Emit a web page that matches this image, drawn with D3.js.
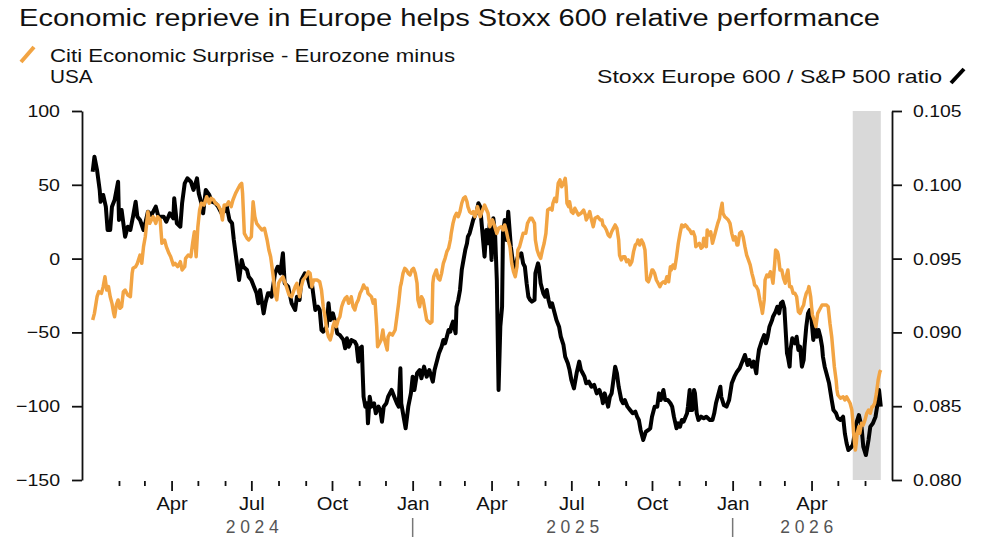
<!DOCTYPE html>
<html>
<head>
<meta charset="utf-8">
<script src="https://cdn.jsdelivr.net/npm/d3@7"></script>
<style>
  body { margin: 0; background: #fff; }
  svg { display: block; font-family: "Liberation Sans", Arial, sans-serif; }
  .axis text { font-family: "Liberation Sans", Arial, sans-serif; fill: #111; }
  .axis path, .axis line { stroke: #111; stroke-width: 1.8; }
</style>
</head>
<body>
<svg id="chart" width="1000" height="545"></svg>
<script>
// Chart text
var titleText = "Economic reprieve in Europe helps Stoxx 600 relative performance";
var surpriseLabel = ["Citi Economic Surprise - Eurozone minus", "USA"];
var ratioLabel = "Stoxx Europe 600 / S&P 500 ratio";

// Axis ticks
var leftTicks = [100, 50, 0, -50, -100, -150];
var rightTicks = [0.105, 0.100, 0.095, 0.090, 0.085, 0.080];
var yearLabels = ["2024", "2025", "2026"];
var dateStart = "2024-01-01";
var dateEnd = "2026-06-19";

// shaded period at the end
var shadedPeriod = ["2026-05-18", "2026-06-19"];

// Citi Economic Surprise, Eurozone minus USA (left axis)
var surprise = [["2024-01-02",-41.6],["2024-01-04",-37.1],["2024-01-07",-25.8],["2024-01-09",-22.4],["2024-01-12",-23.5],["2024-01-14",-19.0],["2024-01-16",-12.3],["2024-01-18",-21.3],["2024-01-20",-19.0],["2024-01-22",-25.8],["2024-01-24",-30.3],["2024-01-26",-37.1],["2024-01-27",-39.4],["2024-01-29",-31.4],["2024-01-31",-28.0],["2024-02-02",-33.7],["2024-02-04",-32.6],["2024-02-06",-22.4],["2024-02-08",-21.3],["2024-02-11",-24.7],["2024-02-14",-25.8],["2024-02-16",-10.0],["2024-02-17",-6.6],["2024-02-20",-5.5],["2024-02-22",-3.2],["2024-02-25",2.4],["2024-02-27",-3.2],["2024-02-29",8.1],["2024-03-02",14.8],["2024-03-04",26.2],["2024-03-05",31.8],["2024-03-07",23.9],["2024-03-09",26.2],["2024-03-11",28.4],["2024-03-14",23.9],["2024-03-16",28.4],["2024-03-19",26.2],["2024-03-21",10.4],["2024-03-24",12.6],["2024-03-26",8.1],["2024-03-29",3.6],["2024-03-31",1.3],["2024-04-03",-4.3],["2024-04-05",-3.2],["2024-04-08",-5.5],["2024-04-11",-2.1],["2024-04-13",-7.7],["2024-04-16",-5.5],["2024-04-17",0.2],["2024-04-20",2.4],["2024-04-23",1.3],["2024-04-25",10.4],["2024-04-27",18.2],["2024-04-29",1.3],["2024-05-01",21.6],["2024-05-03",32.9],["2024-05-05",37.5],["2024-05-08",36.3],["2024-05-11",41.9],["2024-05-14",37.5],["2024-05-16",40.9],["2024-05-19",39.7],["2024-05-21",37.5],["2024-05-24",36.3],["2024-05-27",32.9],["2024-05-29",26.2],["2024-05-31",36.3],["2024-06-03",36.3],["2024-06-05",38.5],["2024-06-08",35.2],["2024-06-10",39.7],["2024-06-13",44.2],["2024-06-15",46.5],["2024-06-18",49.9],["2024-06-20",51.0],["2024-06-21",44.2],["2024-06-23",17.1],["2024-06-26",13.8],["2024-06-28",12.6],["2024-07-01",14.8],["2024-07-03",38.5],["2024-07-05",28.4],["2024-07-07",23.9],["2024-07-10",21.6],["2024-07-13",19.4],["2024-07-16",20.5],["2024-07-19",12.6],["2024-07-21",5.8],["2024-07-23",1.3],["2024-07-24",-3.2],["2024-07-26",-12.3],["2024-07-28",-23.5],["2024-07-30",-28.0],["2024-08-01",-16.7],["2024-08-03",-14.5],["2024-08-06",-12.3],["2024-08-10",-19.0],["2024-08-13",-24.7],["2024-08-16",-25.8],["2024-08-20",-19.0],["2024-08-22",-16.7],["2024-08-25",-25.8],["2024-08-27",-19.0],["2024-08-29",-14.5],["2024-09-01",-12.3],["2024-09-04",-8.9],["2024-09-06",-10.0],["2024-09-08",-19.0],["2024-09-10",-14.5],["2024-09-14",-14.5],["2024-09-17",-15.7],["2024-09-19",-21.3],["2024-09-21",-32.6],["2024-09-23",-39.4],["2024-09-25",-48.4],["2024-09-27",-52.9],["2024-09-29",-55.1],["2024-10-01",-50.6],["2024-10-02",-46.1],["2024-10-04",-42.7],["2024-10-06",-46.1],["2024-10-08",-41.6],["2024-10-10",-39.4],["2024-10-12",-32.6],["2024-10-14",-29.2],["2024-10-16",-26.9],["2024-10-18",-25.8],["2024-10-20",-30.3],["2024-10-22",-28.0],["2024-10-23",-25.8],["2024-10-25",-32.6],["2024-10-27",-34.8],["2024-10-29",-30.3],["2024-10-31",-28.0],["2024-11-02",-23.5],["2024-11-04",-21.3],["2024-11-06",-17.9],["2024-11-08",-20.1],["2024-11-10",-20.1],["2024-11-11",-23.5],["2024-11-13",-24.7],["2024-11-15",-25.8],["2024-11-17",-30.3],["2024-11-19",-28.0],["2024-11-21",-46.1],["2024-11-22",-59.7],["2024-11-24",-57.4],["2024-11-26",-55.1],["2024-11-28",-48.4],["2024-11-29",-52.9],["2024-12-02",-59.7],["2024-12-03",-61.9],["2024-12-04",-52.9],["2024-12-06",-50.6],["2024-12-09",-51.8],["2024-12-12",-48.4],["2024-12-14",-39.4],["2024-12-16",-30.3],["2024-12-18",-19.0],["2024-12-19",-16.7],["2024-12-21",-10.0],["2024-12-23",-6.6],["2024-12-25",-7.7],["2024-12-27",-10.0],["2024-12-29",-11.1],["2024-12-31",-7.7],["2025-01-02",-6.6],["2025-01-04",-10.0],["2025-01-06",-16.7],["2025-01-07",-28.0],["2025-01-09",-32.6],["2025-01-11",-25.8],["2025-01-13",-28.0],["2025-01-15",-34.8],["2025-01-17",-41.6],["2025-01-19",-42.7],["2025-01-21",-43.8],["2025-01-23",-42.7],["2025-01-24",-16.7],["2025-01-25",-12.3],["2025-01-28",-7.7],["2025-01-30",-13.3],["2025-02-01",-14.5],["2025-02-03",-10.0],["2025-02-05",-3.2],["2025-02-07",0.2],["2025-02-09",4.7],["2025-02-11",7.0],["2025-02-13",12.6],["2025-02-14",17.1],["2025-02-16",23.9],["2025-02-18",28.4],["2025-02-20",30.7],["2025-02-22",28.4],["2025-02-24",31.8],["2025-02-26",37.5],["2025-02-28",40.9],["2025-03-02",41.9],["2025-03-04",38.5],["2025-03-05",35.2],["2025-03-07",31.8],["2025-03-09",30.7],["2025-03-11",31.8],["2025-03-13",28.4],["2025-03-15",32.9],["2025-03-16",35.2],["2025-03-19",28.4],["2025-03-21",31.8],["2025-03-24",36.3],["2025-03-28",30.7],["2025-03-30",21.6],["2025-04-02",26.2],["2025-04-04",22.8],["2025-04-07",17.1],["2025-04-09",20.5],["2025-04-12",21.6],["2025-04-14",19.4],["2025-04-16",22.8],["2025-04-18",18.2],["2025-04-20",12.6],["2025-04-22",8.1],["2025-04-24",-3.2],["2025-04-26",-8.9],["2025-04-28",-12.3],["2025-04-30",-5.5],["2025-05-01",5.8],["2025-05-03",8.1],["2025-05-05",12.6],["2025-05-07",17.1],["2025-05-10",17.1],["2025-05-12",23.9],["2025-05-15",27.3],["2025-05-17",27.3],["2025-05-20",23.9],["2025-05-21",12.6],["2025-05-23",5.8],["2025-05-25",2.4],["2025-05-27",0.2],["2025-05-29",5.8],["2025-05-31",10.4],["2025-06-02",17.1],["2025-06-04",32.9],["2025-06-07",34.1],["2025-06-09",32.9],["2025-06-10",37.5],["2025-06-12",40.9],["2025-06-14",38.5],["2025-06-16",51.0],["2025-06-18",53.3],["2025-06-20",48.7],["2025-06-22",51.0],["2025-06-24",54.4],["2025-06-25",48.7],["2025-06-26",37.5],["2025-06-28",35.2],["2025-06-29",38.5],["2025-07-01",31.8],["2025-07-03",30.7],["2025-07-05",34.1],["2025-07-07",31.8],["2025-07-09",29.5],["2025-07-12",30.7],["2025-07-15",32.9],["2025-07-17",29.5],["2025-07-18",26.2],["2025-07-20",28.4],["2025-07-22",31.8],["2025-07-24",26.2],["2025-07-26",21.6],["2025-07-28",27.3],["2025-07-31",28.4],["2025-08-03",26.2],["2025-08-05",26.2],["2025-08-06",22.8],["2025-08-08",21.6],["2025-08-10",19.4],["2025-08-12",16.0],["2025-08-14",14.8],["2025-08-16",18.2],["2025-08-18",20.5],["2025-08-20",22.8],["2025-08-22",20.5],["2025-08-24",12.6],["2025-08-25",2.4],["2025-08-27",-0.9],["2025-08-29",1.3],["2025-08-31",1.3],["2025-09-02",-2.1],["2025-09-04",-0.9],["2025-09-06",-4.3],["2025-09-08",-2.1],["2025-09-10",4.7],["2025-09-12",9.2],["2025-09-14",10.4],["2025-09-15",12.6],["2025-09-17",9.2],["2025-09-19",12.6],["2025-09-21",10.4],["2025-09-23",5.8],["2025-09-25",-14.5],["2025-09-27",-15.7],["2025-09-29",-12.3],["2025-10-01",-7.7],["2025-10-02",-7.7],["2025-10-04",-10.0],["2025-10-06",-14.5],["2025-10-08",-16.7],["2025-10-10",-19.0],["2025-10-12",-16.7],["2025-10-14",-15.7],["2025-10-16",-16.7],["2025-10-18",-12.3],["2025-10-20",-15.7],["2025-10-22",-5.5],["2025-10-23",-7.7],["2025-10-25",-4.3],["2025-10-27",-6.6],["2025-10-29",1.3],["2025-10-31",10.4],["2025-11-02",17.1],["2025-11-04",22.8],["2025-11-06",21.6],["2025-11-08",22.8],["2025-11-10",21.6],["2025-11-11",20.5],["2025-11-13",19.4],["2025-11-15",17.1],["2025-11-17",18.2],["2025-11-19",14.8],["2025-11-20",8.1],["2025-11-22",9.2],["2025-11-24",10.4],["2025-11-26",7.0],["2025-11-28",8.1],["2025-11-29",13.8],["2025-12-02",8.1],["2025-12-03",19.4],["2025-12-05",16.0],["2025-12-07",18.2],["2025-12-09",10.4],["2025-12-11",14.8],["2025-12-13",19.4],["2025-12-15",23.9],["2025-12-17",27.3],["2025-12-18",31.8],["2025-12-20",37.5],["2025-12-21",30.7],["2025-12-23",28.4],["2025-12-25",27.3],["2025-12-27",26.2],["2025-12-29",23.9],["2025-12-31",17.1],["2026-01-02",12.6],["2026-01-04",14.8],["2026-01-06",9.2],["2026-01-07",9.2],["2026-01-09",17.1],["2026-01-11",18.2],["2026-01-13",14.8],["2026-01-15",8.1],["2026-01-17",2.4],["2026-01-19",-0.9],["2026-01-21",-4.3],["2026-01-23",-10.0],["2026-01-25",-14.5],["2026-01-26",-17.9],["2026-01-28",-19.0],["2026-01-30",-21.3],["2026-02-01",-28.0],["2026-02-03",-33.7],["2026-02-04",-37.1],["2026-02-06",-28.0],["2026-02-07",-14.5],["2026-02-09",-11.1],["2026-02-11",-12.3],["2026-02-13",-8.9],["2026-02-14",-10.0],["2026-02-16",-16.7],["2026-02-18",-3.2],["2026-02-19",5.8],["2026-02-21",4.7],["2026-02-22",2.4],["2026-02-24",-7.7],["2026-02-26",-7.7],["2026-02-28",-13.3],["2026-03-02",-16.7],["2026-03-04",-10.0],["2026-03-05",-7.7],["2026-03-07",-19.0],["2026-03-09",-19.0],["2026-03-11",-23.5],["2026-03-13",-23.5],["2026-03-15",-25.8],["2026-03-17",-36.0],["2026-03-19",-37.1],["2026-03-21",-33.7],["2026-03-23",-31.4],["2026-03-24",-28.0],["2026-03-26",-23.5],["2026-03-28",-21.3],["2026-03-29",-19.0],["2026-03-31",-25.8],["2026-04-01",-32.6],["2026-04-02",-38.2],["2026-04-04",-41.6],["2026-04-06",-46.1],["2026-04-08",-37.1],["2026-04-10",-34.8],["2026-04-13",-31.4],["2026-04-15",-31.4],["2026-04-18",-31.4],["2026-04-20",-32.6],["2026-04-22",-43.8],["2026-04-24",-52.9],["2026-04-25",-59.7],["2026-04-27",-73.2],["2026-04-29",-82.2],["2026-04-30",-89.0],["2026-05-01",-92.4],["2026-05-04",-94.6],["2026-05-07",-93.6],["2026-05-09",-95.8],["2026-05-11",-93.6],["2026-05-13",-95.8],["2026-05-15",-98.0],["2026-05-17",-102.6],["2026-05-18",-109.3],["2026-05-19",-118.4],["2026-05-21",-129.7],["2026-05-22",-125.1],["2026-05-23",-118.4],["2026-05-25",-113.9],["2026-05-26",-118.4],["2026-05-28",-111.6],["2026-05-30",-112.7],["2026-06-01",-109.3],["2026-06-03",-104.8],["2026-06-05",-102.6],["2026-06-07",-104.8],["2026-06-09",-100.3],["2026-06-10",-100.3],["2026-06-12",-98.0],["2026-06-14",-91.3],["2026-06-16",-82.2],["2026-06-18",-76.6],["2026-06-19",-75.5]];

// Stoxx Europe 600 / S&P 500 ratio (right axis)
var ratio = [["2024-01-02",0.10089],["2024-01-04",0.10190],["2024-01-07",0.10100],["2024-01-08",0.10055],["2024-01-10",0.09965],["2024-01-11",0.09885],["2024-01-14",0.09931],["2024-01-17",0.09852],["2024-01-19",0.09694],["2024-01-22",0.09694],["2024-01-24",0.09852],["2024-01-27",0.09897],["2024-01-31",0.10021],["2024-02-01",0.09762],["2024-02-04",0.09829],["2024-02-08",0.09648],["2024-02-11",0.09716],["2024-02-14",0.09694],["2024-02-17",0.09784],["2024-02-20",0.09885],["2024-02-22",0.09784],["2024-02-25",0.09762],["2024-02-29",0.09694],["2024-03-02",0.09739],["2024-03-05",0.09818],["2024-03-09",0.09795],["2024-03-14",0.09852],["2024-03-17",0.09784],["2024-03-23",0.09784],["2024-03-26",0.09750],["2024-03-30",0.09807],["2024-04-03",0.09773],["2024-04-04",0.09909],["2024-04-07",0.09739],["2024-04-11",0.09716],["2024-04-13",0.09875],["2024-04-16",0.10010],["2024-04-19",0.10044],["2024-04-23",0.10021],["2024-04-26",0.09965],["2024-04-30",0.10044],["2024-05-02",0.09942],["2024-05-05",0.09875],["2024-05-07",0.09807],["2024-05-10",0.09965],["2024-05-14",0.09931],["2024-05-17",0.09885],["2024-05-21",0.09875],["2024-05-24",0.09852],["2024-05-28",0.09807],["2024-05-31",0.09818],["2024-06-03",0.09852],["2024-06-06",0.09762],["2024-06-09",0.09739],["2024-06-11",0.09626],["2024-06-14",0.09491],["2024-06-17",0.09355],["2024-06-20",0.09491],["2024-06-22",0.09445],["2024-06-26",0.09423],["2024-06-28",0.09377],["2024-07-01",0.09355],["2024-07-04",0.09310],["2024-07-07",0.09265],["2024-07-09",0.09197],["2024-07-11",0.09287],["2024-07-15",0.09129],["2024-07-17",0.09197],["2024-07-20",0.09265],["2024-07-22",0.09265],["2024-07-24",0.09242],["2024-07-28",0.09400],["2024-07-31",0.09445],["2024-08-03",0.09400],["2024-08-06",0.09536],["2024-08-08",0.09333],["2024-08-12",0.09310],["2024-08-16",0.09197],["2024-08-20",0.09152],["2024-08-22",0.09242],["2024-08-25",0.09220],["2024-08-27",0.09355],["2024-08-31",0.09400],["2024-09-03",0.09377],["2024-09-06",0.09310],["2024-09-08",0.09333],["2024-09-10",0.09242],["2024-09-12",0.09152],["2024-09-15",0.09174],["2024-09-17",0.09152],["2024-09-19",0.09016],["2024-09-21",0.09005],["2024-09-25",0.09039],["2024-09-27",0.09197],["2024-09-29",0.09084],["2024-10-02",0.09129],["2024-10-04",0.09084],["2024-10-07",0.08994],["2024-10-10",0.08982],["2024-10-14",0.08949],["2024-10-16",0.08892],["2024-10-18",0.08960],["2024-10-20",0.08903],["2024-10-22",0.08926],["2024-10-23",0.08949],["2024-10-27",0.08937],["2024-10-29",0.08915],["2024-10-31",0.08802],["2024-11-02",0.08892],["2024-11-04",0.08903],["2024-11-05",0.08723],["2024-11-06",0.08564],["2024-11-08",0.08497],["2024-11-10",0.08520],["2024-11-11",0.08384],["2024-11-13",0.08564],["2024-11-15",0.08497],["2024-11-18",0.08520],["2024-11-20",0.08452],["2024-11-23",0.08497],["2024-11-25",0.08474],["2024-11-27",0.08395],["2024-11-29",0.08497],["2024-12-02",0.08520],["2024-12-04",0.08564],["2024-12-08",0.08610],["2024-12-11",0.08564],["2024-12-14",0.08520],["2024-12-16",0.08497],["2024-12-18",0.08757],["2024-12-19",0.08520],["2024-12-21",0.08452],["2024-12-24",0.08350],["2024-12-27",0.08497],["2024-12-30",0.08587],["2025-01-01",0.08700],["2025-01-03",0.08610],["2025-01-06",0.08723],["2025-01-09",0.08745],["2025-01-11",0.08689],["2025-01-14",0.08768],["2025-01-17",0.08700],["2025-01-20",0.08745],["2025-01-24",0.08666],["2025-01-26",0.08745],["2025-01-29",0.08813],["2025-01-31",0.08858],["2025-02-03",0.08903],["2025-02-05",0.08949],["2025-02-07",0.08926],["2025-02-09",0.08971],["2025-02-11",0.09016],["2025-02-13",0.09005],["2025-02-14",0.09039],["2025-02-16",0.09073],["2025-02-19",0.08994],["2025-02-20",0.09174],["2025-02-22",0.09220],["2025-02-24",0.09287],["2025-02-26",0.09423],["2025-02-28",0.09491],["2025-03-02",0.09558],["2025-03-04",0.09604],["2025-03-05",0.09648],["2025-03-07",0.09671],["2025-03-09",0.09716],["2025-03-11",0.09762],["2025-03-15",0.09818],["2025-03-17",0.09875],["2025-03-19",0.09852],["2025-03-21",0.09716],["2025-03-24",0.09513],["2025-03-26",0.09694],["2025-03-28",0.09604],["2025-03-30",0.09739],["2025-04-01",0.09491],["2025-04-03",0.09773],["2025-04-05",0.09671],["2025-04-07",0.09355],["2025-04-09",0.08610],["2025-04-11",0.09039],["2025-04-13",0.09174],["2025-04-14",0.09671],["2025-04-16",0.09762],["2025-04-18",0.09626],["2025-04-20",0.09818],["2025-04-21",0.09739],["2025-04-23",0.09581],["2025-04-26",0.09445],["2025-04-28",0.09434],["2025-04-30",0.09491],["2025-05-01",0.09513],["2025-05-05",0.09536],["2025-05-07",0.09468],["2025-05-09",0.09445],["2025-05-11",0.09333],["2025-05-13",0.09242],["2025-05-15",0.09220],["2025-05-17",0.09208],["2025-05-20",0.09220],["2025-05-21",0.09400],["2025-05-24",0.09468],["2025-05-25",0.09445],["2025-05-27",0.09333],["2025-05-30",0.09265],["2025-06-01",0.09242],["2025-06-03",0.09287],["2025-06-05",0.09220],["2025-06-07",0.09174],["2025-06-09",0.09197],["2025-06-12",0.09129],["2025-06-14",0.09084],["2025-06-17",0.09039],["2025-06-19",0.08971],["2025-06-22",0.08915],["2025-06-24",0.08835],["2025-06-27",0.08791],["2025-06-29",0.08745],["2025-07-01",0.08678],["2025-07-04",0.08621],["2025-07-07",0.08723],["2025-07-10",0.08802],["2025-07-12",0.08745],["2025-07-14",0.08723],["2025-07-16",0.08700],["2025-07-18",0.08655],["2025-07-21",0.08666],["2025-07-24",0.08632],["2025-07-27",0.08644],["2025-07-30",0.08587],["2025-08-02",0.08610],["2025-08-05",0.08554],["2025-08-06",0.08520],["2025-08-08",0.08587],["2025-08-10",0.08542],["2025-08-12",0.08497],["2025-08-14",0.08564],["2025-08-16",0.08587],["2025-08-18",0.08678],["2025-08-20",0.08768],["2025-08-22",0.08723],["2025-08-24",0.08632],["2025-08-27",0.08542],["2025-08-29",0.08520],["2025-08-31",0.08542],["2025-09-03",0.08497],["2025-09-06",0.08474],["2025-09-09",0.08452],["2025-09-12",0.08463],["2025-09-14",0.08429],["2025-09-16",0.08407],["2025-09-18",0.08339],["2025-09-21",0.08271],["2025-09-24",0.08327],["2025-09-27",0.08339],["2025-09-29",0.08350],["2025-10-01",0.08429],["2025-10-04",0.08497],["2025-10-07",0.08497],["2025-10-09",0.08587],["2025-10-11",0.08542],["2025-10-14",0.08610],["2025-10-16",0.08542],["2025-10-19",0.08542],["2025-10-22",0.08520],["2025-10-24",0.08497],["2025-10-26",0.08429],["2025-10-29",0.08350],["2025-10-31",0.08384],["2025-11-02",0.08361],["2025-11-04",0.08407],["2025-11-06",0.08395],["2025-11-10",0.08452],["2025-11-11",0.08497],["2025-11-13",0.08610],["2025-11-14",0.08474],["2025-11-16",0.08474],["2025-11-18",0.08610],["2025-11-19",0.08587],["2025-11-21",0.08452],["2025-11-23",0.08407],["2025-11-26",0.08429],["2025-11-29",0.08418],["2025-12-02",0.08429],["2025-12-06",0.08407],["2025-12-09",0.08407],["2025-12-11",0.08452],["2025-12-13",0.08520],["2025-12-16",0.08587],["2025-12-18",0.08632],["2025-12-19",0.08564],["2025-12-22",0.08508],["2025-12-25",0.08497],["2025-12-28",0.08542],["2025-12-31",0.08655],["2026-01-03",0.08700],["2026-01-06",0.08734],["2026-01-09",0.08757],["2026-01-12",0.08802],["2026-01-15",0.08847],["2026-01-18",0.08779],["2026-01-20",0.08813],["2026-01-23",0.08768],["2026-01-25",0.08802],["2026-01-28",0.08723],["2026-01-29",0.08791],["2026-01-31",0.08881],["2026-02-03",0.08937],["2026-02-06",0.08982],["2026-02-08",0.08926],["2026-02-10",0.08971],["2026-02-12",0.09039],["2026-02-15",0.09084],["2026-02-16",0.09106],["2026-02-19",0.09140],["2026-02-21",0.09174],["2026-02-23",0.09129],["2026-02-25",0.09197],["2026-02-27",0.09208],["2026-03-01",0.09163],["2026-03-02",0.09062],["2026-03-04",0.08858],["2026-03-05",0.08835],["2026-03-07",0.08768],["2026-03-08",0.08881],["2026-03-10",0.08960],["2026-03-13",0.08926],["2026-03-15",0.08971],["2026-03-17",0.08881],["2026-03-19",0.08903],["2026-03-21",0.08768],["2026-03-23",0.08813],["2026-03-24",0.08903],["2026-03-26",0.09039],["2026-03-28",0.09129],["2026-03-30",0.09152],["2026-04-01",0.09084],["2026-04-03",0.08949],["2026-04-05",0.09039],["2026-04-07",0.08971],["2026-04-09",0.09016],["2026-04-11",0.08971],["2026-04-13",0.08903],["2026-04-14",0.08835],["2026-04-16",0.08768],["2026-04-18",0.08723],["2026-04-21",0.08655],["2026-04-24",0.08542],["2026-04-26",0.08474],["2026-04-29",0.08452],["2026-05-01",0.08418],["2026-05-04",0.08407],["2026-05-07",0.08429],["2026-05-09",0.08316],["2026-05-11",0.08249],["2026-05-13",0.08203],["2026-05-16",0.08220],["2026-05-18",0.08237],["2026-05-19",0.08271],["2026-05-22",0.08384],["2026-05-25",0.08440],["2026-05-28",0.08361],["2026-05-30",0.08226],["2026-06-02",0.08169],["2026-06-05",0.08271],["2026-06-07",0.08361],["2026-06-10",0.08384],["2026-06-13",0.08429],["2026-06-16",0.08542],["2026-06-17",0.08610],["2026-06-19",0.08497]];

var orange = "#f2a443";
var parseDate = d3.timeParse("%Y-%m-%d");

// widen text to match the stretched look of the original
function stretch(sel, k) {
  sel.each(function () {
    var w = this.getComputedTextLength();
    d3.select(this).attr("textLength", w * k).attr("lengthAdjust", "spacingAndGlyphs");
  });
}

var svg = d3.select("#chart");
var plotTop = 111, plotBottom = 480, plotLeft = 82, plotRight = 892;

var x = d3.scaleTime()
  .domain([parseDate(dateStart), parseDate(dateEnd)])
  .range([91.8, 880.8]);
var yLeft = d3.scaleLinear().domain([-150, 100]).range([plotBottom, plotTop]);
var yRight = d3.scaleLinear().domain([0.080, 0.105]).range([plotBottom, plotTop]);

// title and legend
svg.append("text")
  .attr("x", 19).attr("y", 26)
  .attr("font-size", 23).attr("fill", "#111")
  .attr("textLength", 861).attr("lengthAdjust", "spacingAndGlyphs")
  .text(titleText);

svg.append("line")
  .attr("x1", 21).attr("y1", 62).attr("x2", 34).attr("y2", 47)
  .attr("stroke", orange).attr("stroke-width", 4);
svg.append("text")
  .attr("x", 50).attr("y", 61.5)
  .attr("font-size", 18.5).attr("fill", "#111")
  .attr("textLength", 405).attr("lengthAdjust", "spacingAndGlyphs")
  .text(surpriseLabel[0]);
stretch(svg.append("text")
  .attr("x", 50).attr("y", 83)
  .attr("font-size", 18.5).attr("fill", "#111")
  .text(surpriseLabel[1]), 1.12);

svg.append("text")
  .attr("x", 942).attr("y", 83)
  .attr("text-anchor", "end")
  .attr("font-size", 18.5).attr("fill", "#111")
  .attr("textLength", 345).attr("lengthAdjust", "spacingAndGlyphs")
  .text(ratioLabel);
svg.append("line")
  .attr("x1", 951).attr("y1", 83).attr("x2", 964).attr("y2", 69)
  .attr("stroke", "#000").attr("stroke-width", 4);

// shaded period
svg.append("rect")
  .attr("x", x(parseDate(shadedPeriod[0])))
  .attr("y", plotTop)
  .attr("width", x(parseDate(shadedPeriod[1])) - x(parseDate(shadedPeriod[0])))
  .attr("height", plotBottom - plotTop)
  .attr("fill", "#d9d9d9");

// y axes
var gLeft = svg.append("g").attr("class", "axis")
  .attr("transform", "translate(" + plotLeft + ",0)")
  .call(d3.axisLeft(yLeft).tickValues(leftTicks).tickSize(10).tickSizeOuter(0).tickPadding(12));
gLeft.selectAll("text").attr("font-size", 17);
stretch(gLeft.selectAll("text"), 1.15);

var gRight = svg.append("g").attr("class", "axis")
  .attr("transform", "translate(" + plotRight + ",0)")
  .call(d3.axisRight(yRight).tickValues(rightTicks).tickSize(10).tickSizeOuter(0).tickPadding(11)
    .tickFormat(d3.format(".3f")));
gRight.selectAll("text").attr("font-size", 17);
stretch(gRight.selectAll("text"), 1.14);

// x axis: monthly ticks, quarters longer and labelled
var months = d3.timeMonth.range(new Date(2024, 1, 1), new Date(2026, 5, 2));
var quarters = months.filter(function (d) { return d.getMonth() % 3 === 0; });
var minors = months.filter(function (d) { return d.getMonth() % 3 !== 0; });

var gMinor = svg.append("g").attr("class", "axis")
  .attr("transform", "translate(0," + (plotBottom + 1) + ")")
  .call(d3.axisBottom(x).tickValues(minors).tickSize(5).tickFormat(""));
gMinor.select(".domain").remove();

var gMajor = svg.append("g").attr("class", "axis")
  .attr("transform", "translate(0," + (plotBottom + 1) + ")")
  .call(d3.axisBottom(x).tickValues(quarters).tickSize(10).tickPadding(6)
    .tickFormat(d3.timeFormat("%b")));
gMajor.select(".domain").remove();
gMajor.selectAll("text").attr("font-size", 18);
stretch(gMajor.selectAll("text"), 1.12);

// year labels with separators
var yearBounds = [parseDate(dateStart), new Date(2025, 0, 1), new Date(2026, 0, 1), parseDate(dateEnd)];
svg.selectAll(".year")
  .data(yearLabels)
  .enter().append("text")
  .attr("class", "year")
  .attr("x", function (d, i) { return (x(yearBounds[i]) + x(yearBounds[i + 1])) / 2; })
  .attr("y", 533)
  .attr("text-anchor", "middle")
  .attr("font-size", 17.5)
  .attr("fill", "#555")
  .attr("textLength", 53).attr("lengthAdjust", "spacing")
  .text(function (d) { return d; });

svg.selectAll(".year-sep")
  .data(yearBounds.slice(1, 3))
  .enter().append("line")
  .attr("class", "year-sep")
  .attr("x1", function (d) { return x(d); })
  .attr("x2", function (d) { return x(d); })
  .attr("y1", 518).attr("y2", 537)
  .attr("stroke", "#777").attr("stroke-width", 1.5);

// lines
var ratioData = ratio.map(function (d) { return { date: parseDate(d[0]), value: d[1] }; });
var surpriseData = surprise.map(function (d) { return { date: parseDate(d[0]), value: d[1] }; });

svg.append("path")
  .datum(ratioData)
  .attr("fill", "none")
  .attr("stroke", "#000")
  .attr("stroke-width", 4)
  .attr("stroke-linejoin", "round")
  .attr("d", d3.line()
    .x(function (d) { return x(d.date); })
    .y(function (d) { return yRight(d.value); }));

svg.append("path")
  .datum(surpriseData)
  .attr("fill", "none")
  .attr("stroke", orange)
  .attr("stroke-width", 3.5)
  .attr("stroke-linejoin", "round")
  .attr("d", d3.line()
    .x(function (d) { return x(d.date); })
    .y(function (d) { return yLeft(d.value); }));
</script>
</body>
</html>
